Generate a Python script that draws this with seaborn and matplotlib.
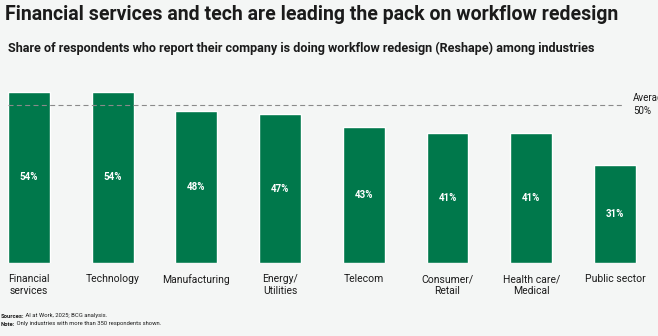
import matplotlib
matplotlib.use("Agg")
import matplotlib.pyplot as plt
import seaborn as sns
import pandas as pd

# Data
industries = ["Financial\nservices", "Technology", "Manufacturing", "Energy/\nUtilities",
              "Telecom", "Consumer/\nRetail", "Health care/\nMedical", "Public sector"]
shares = [54, 54, 48, 47, 43, 41, 41, 31]
average = 50

title = "Financial services and tech are leading the pack on workflow redesign"
subtitle = "Share of respondents who report their company is doing workflow redesign (Reshape) among industries"
sources_text = "AI at Work, 2025; BCG analysis."
note_text = "Only industries with more than 350 respondents shown."

GREEN = "#00784B"
BG = "#f4f6f5"
INK = "#1b1b1b"

sns.set_theme(style="white")
plt.rcParams["font.family"] = ["Roboto", "DejaVu Sans"]

W, H = 658, 336
fig = plt.figure(figsize=(W / 100, H / 100), dpi=100, facecolor=BG)
ax = fig.add_axes([0, (H - 263) / H, 1, (263 - 60) / H])
ax.set_facecolor(BG)

df = pd.DataFrame({"industry": industries, "share": shares})
sns.barplot(data=df, x="industry", y="share", color=GREEN, saturation=1,
            width=0.5, ax=ax)

ax.set_xlim(-29 / 83.7, (W - 29) / 83.7)
ax.set_ylim(0, 203 / 3.17)
ax.set_xlabel("")
ax.set_ylabel("")
ax.set_yticks([])
for s in ax.spines.values():
    s.set_visible(False)
ax.tick_params(axis="x", length=0, pad=8, labelsize=7.5, labelcolor=INK)

ax.bar_label(ax.containers[0], labels=[f"{v}%" for v in shares],
             label_type="center", color="white", fontsize=7, fontweight="bold")

# Average reference line
ax.hlines(average, -0.25, 7.1, colors="#8a8a8a", linestyles=(0, (4.5, 3)),
          linewidth=0.8, zorder=3)
ax.text(7.22, average, f"Average\n{average}%", va="center", ha="left",
        fontsize=7, color=INK, linespacing=1.3, clip_on=False)

renderer = fig.canvas.get_renderer()


def fit_text(x_px, y_px, s, width_px, size, **kw):
    t = fig.text(x_px / W, 1 - y_px / H, s, ha="left", va="center",
                 fontsize=size, color=INK, **kw)
    bb = t.get_window_extent(renderer)
    t.set_fontsize(size * width_px / bb.width)
    return t


fit_text(5, 14, title, 612, 13.5, fontweight="bold")
fit_text(8, 48, subtitle, 590, 9, fontweight="bold")

# Footnotes with bold lead-ins
foot_size = 4.2
for y_px, lead, body in [(316, "Sources:", " " + sources_text),
                         (324, "Note:", " " + note_text)]:
    t1 = fig.text(1 / W, 1 - y_px / H, lead, ha="left", va="center",
                  fontsize=foot_size, fontweight="bold", color=INK)
    bb = t1.get_window_extent(renderer)
    fig.text((1 + bb.width) / W, 1 - y_px / H, body, ha="left", va="center",
             fontsize=foot_size, color=INK)

fig.savefig("out.png", dpi=100, facecolor=BG)
